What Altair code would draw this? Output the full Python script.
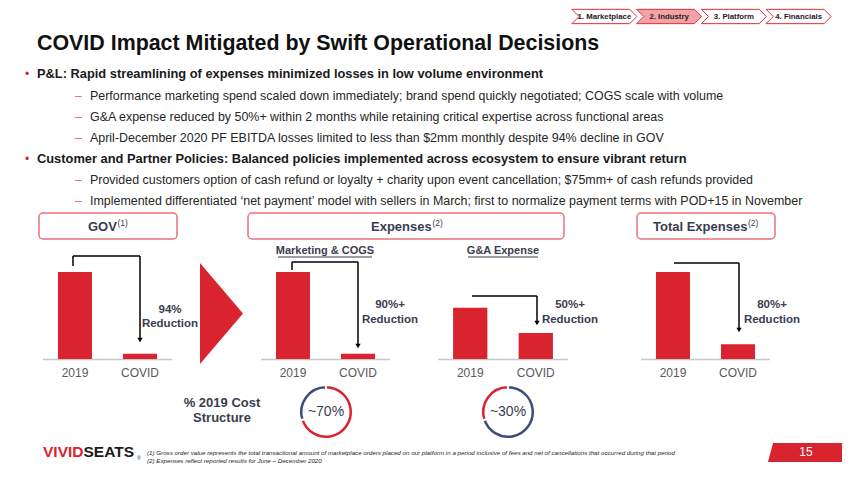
import altair as alt
import pandas as pd

# ---------------- data ----------------
NAV_TABS = ["1. Marketplace", "2. Industry", "3. Platform", "4. Financials"]
ACTIVE_TAB = "2. Industry"
TITLE = "COVID Impact Mitigated by Swift Operational Decisions"
BULLET_KINDS = ["main", "sub", "sub", "sub", "main", "sub", "sub"]
BULLET_TEXTS = [
    "P&L: Rapid streamlining of expenses minimized losses in low volume environment",
    "Performance marketing spend scaled down immediately; brand spend quickly negotiated; COGS scale with volume",
    "G&A expense reduced by 50%+ within 2 months while retaining critical expertise across functional areas",
    "April-December 2020 PF EBITDA losses limited to less than $2mm monthly despite 94% decline in GOV",
    "Customer and Partner Policies: Balanced policies implemented across ecosystem to ensure vibrant return",
    "Provided customers option of cash refund or loyalty + charity upon event cancellation; $75mm+ of cash refunds provided",
    "Implemented differentiated \u2018net payment\u2019 model with sellers in March; first to normalize payment terms with POD+15 in November",
]
PERIODS = ["2019", "COVID"]
GOV_VALUES = [100, 6]
MKT_VALUES = [100, 6]
GA_VALUES = [59, 30]
TOTAL_VALUES = [100, 17]
REDUCTIONS = ["94%", "90%+", "50%+", "80%+"]
COST_SEGMENTS = ["Marketing & COGS", "G&A"]
COST_SHARES = [70, 30]
COST_LABELS = ["~70%", "~30%"]
FOOTNOTES = [
    "(1) Gross order value represents the total transactional amount of marketplace orders placed on our platform in a period inclusive of fees and net of cancellations that occurred during that period",
    "(2) Expenses reflect reported results for June \u2013 December 2020",
]
PAGE = "15"

# ---------------- styles ----------------
OX, OY = 8, 8
def px(x):
    return x - OX
def py(y):
    return y - OY

FONT = "Liberation Sans, Arial, Helvetica, sans-serif"
RED = "#D9232E"
NAVY = "#3F4B7C"
DARK = "#3A3D4F"
GRAY_TXT = "#595959"
ONE = pd.DataFrame({"k": [0]})

layers = []

def txt(s, x, y, size=13, weight="normal", color="#222222", align="left",
        baseline="middle", font=FONT, style="normal"):
    return alt.Chart(ONE).mark_text(
        text=s, align=align, baseline=baseline, fontSize=size, fontWeight=weight,
        color=color, font=font, fontStyle=style
    ).encode(x=alt.value(px(x)), y=alt.value(py(y)))

def rule(x1, y1, x2, y2, color="black", width=1.5):
    return alt.Chart(ONE).mark_rule(color=color, strokeWidth=width).encode(
        x=alt.value(px(x1)), y=alt.value(py(y1)),
        x2=alt.value(px(x2)), y2=alt.value(py(y2)))

def shape(path, cx, cy, size, fill, stroke=None, sw=0):
    kw = dict(shape=path, size=size, filled=True, fill=fill, opacity=1, strokeWidth=sw)
    if stroke:
        kw["stroke"] = stroke
    return alt.Chart(ONE).mark_point(**kw).encode(x=alt.value(px(cx)), y=alt.value(py(cy)))

# ---------------- nav tabs ----------------
TAB_PATH = "M -1 -0.22 L 0.78 -0.22 L 1 0 L 0.78 0.22 L -1 0.22 L -0.78 0 Z"
tab_df = pd.DataFrame({"tab": NAV_TABS})
tab_x = alt.X("tab:N", axis=None, sort=NAV_TABS,
              scale=alt.Scale(domain=NAV_TABS, range=[px(572), px(831)], paddingInner=0, paddingOuter=0))
tabs = alt.Chart(tab_df).mark_point(shape=TAB_PATH, size=65 * 65, filled=True, opacity=1,
                                    stroke="#E0303A", strokeWidth=1).encode(
    x=tab_x, y=alt.value(py(16.5)),
    fill=alt.condition(alt.datum.tab == ACTIVE_TAB, alt.value("#F3A3A8"), alt.value("white")))
tab_text = alt.Chart(tab_df).mark_text(font=FONT, fontSize=7.8, fontWeight="bold", color="#222222").encode(
    x=tab_x, y=alt.value(py(17)), text="tab:N")
layers.append(alt.layer(tabs, tab_text))

# ---------------- title & bullets ----------------
layers.append(txt(TITLE, 37, 50, size=21.4, weight="bold", color="#111111", baseline="alphabetic"))
BULLET_Y = [74, 96, 117, 138, 159, 180, 201]
for kind, s, y in zip(BULLET_KINDS, BULLET_TEXTS, BULLET_Y):
    if kind == "main":
        layers.append(txt("\u2022", 25, y, size=12, color=RED))
        layers.append(txt(s, 37, y, size=12.85, weight="bold", color="#1A1A1A"))
    else:
        layers.append(txt("\u2013", 75, y, size=12, color="#E07070"))
        layers.append(txt(s, 90, y, size=12.45, color="#262626"))

# ---------------- header boxes ----------------
for (x0, x1) in [(39, 177), (248, 564), (637, 775)]:
    layers.append(alt.Chart(ONE).mark_rect(fill="white", stroke="#E8737B", strokeWidth=1.5,
                                           cornerRadius=4).encode(
        x=alt.value(px(x0)), x2=alt.value(px(x1)), y=alt.value(py(213)), y2=alt.value(py(239))))
for (s, x, sup, sx) in [("GOV", 88, "(1)", 117.5), ("Expenses", 371, "(2)", 432.5),
                        ("Total Expenses", 653, "(2)", 748)]:
    layers.append(txt(s, x, 227, size=13, weight="bold", color=DARK))
    layers.append(txt(sup, sx, 222.5, size=8.5, color=DARK))

layers.append(txt("Marketing & COGS", 325, 251, size=11, weight="bold", color=DARK, align="center"))
layers.append(rule(278, 257, 372, 257, color=DARK, width=1))
layers.append(txt("G&A Expense", 503, 251, size=11, weight="bold", color=DARK, align="center"))
layers.append(rule(468, 257, 538, 257, color=DARK, width=1))

# ---------------- bar panels ----------------
def panel(values, x0, x1):
    df = pd.DataFrame({"period": PERIODS, "value": values})
    xs = alt.X("period:N", sort=PERIODS, axis=None,
               scale=alt.Scale(domain=PERIODS, range=[px(x0), px(x1)],
                               paddingInner=0.477, paddingOuter=0.23))
    base = alt.Chart(df)
    bars = base.mark_bar(color=RED).encode(
        x=xs,
        y=alt.Y("value:Q", axis=None,
                scale=alt.Scale(domain=[0, 100], range=[py(359), py(272)])))
    labels = base.mark_text(font=FONT, fontSize=12, color=GRAY_TXT, baseline="middle").encode(
        x=xs, y=alt.value(py(373)), text="period:N")
    return alt.layer(bars, labels)

PANELS = [(GOV_VALUES, 43, 172), (MKT_VALUES, 261, 390), (GA_VALUES, 438, 568), (TOTAL_VALUES, 641, 770)]
for vals, x0, x1 in PANELS:
    layers.append(rule(x0, 359.5, x1, 359.5, color="#C8C8C8", width=1.5))
    layers.append(panel(vals, x0, x1))

# arrows
ARROWS = [
    [(73, 266), (73, 256), (140, 256), (140, 338)],
    [(292, 270), (292, 262), (358, 262), (358, 344)],
    [(472, 296), (537, 296), (537, 321)],
    [(674, 263), (739, 263), (739, 328)],
]
for pts in ARROWS:
    for (a, b) in zip(pts[:-1], pts[1:]):
        layers.append(rule(a[0], a[1], b[0], b[1], color="black", width=1.5))
    ex, ey = pts[-1]
    layers.append(shape("triangle-down", ex, ey + 2, 28, "black"))

RED_POS = [(170, 310, 324), (390, 305, 320), (570, 305, 320), (772, 305, 320)]
for lab, (x, y1, y2) in zip(REDUCTIONS, RED_POS):
    layers.append(txt(lab, x, y1, size=11.5, weight="bold", color=DARK, align="center"))
    layers.append(txt("Reduction", x, y2, size=11.5, weight="bold", color=DARK, align="center"))

# big red triangle
layers.append(shape("M -0.426 -1 L 0.426 0 L -0.426 1 Z", 221.5, 313.5, 101 * 101, RED))

# ---------------- donuts ----------------
layers.append(txt("% 2019 Cost", 222, 403, size=13, weight="bold", color=DARK, align="center"))
layers.append(txt("Structure", 222, 418, size=13, weight="bold", color=DARK, align="center"))

cost_df = pd.DataFrame({"segment": COST_SEGMENTS, "share": COST_SHARES})
theta_scale = alt.Scale(domain=[0, 100], range=[0, 6.283185307])
for hl, cx, lab in [(COST_SEGMENTS[0], 326, COST_LABELS[0]), (COST_SEGMENTS[1], 508, COST_LABELS[1])]:
    d = alt.Chart(cost_df).transform_calculate(
        hl=f"datum.segment == '{hl}' ? 'hl' : 'base'",
        ord=f"datum.segment == '{COST_SEGMENTS[0]}' ? 0 : 1",
    ).transform_window(
        cum="sum(share)", sort=[alt.SortField("ord", order="ascending")]
    ).transform_calculate(
        start="datum.cum - datum.share"
    ).mark_arc(radius=27, radius2=22.5, stroke="white", strokeWidth=2).encode(
        theta=alt.Theta("start:Q", scale=theta_scale, stack=None),
        theta2=alt.Theta2("cum:Q"),
        color=alt.Color("hl:N", legend=None,
                        scale=alt.Scale(domain=["hl", "base"], range=[RED, NAVY])),
        x=alt.value(px(cx)), y=alt.value(py(412)))
    layers.append(d)
    layers.append(txt(lab, cx, 412, size=14, color=DARK, align="center"))

# ---------------- footer ----------------
layers.append(txt("VIVID", 43, 452, size=15.5, weight="bold", color=RED))
layers.append(txt("SEATS", 83.5, 452, size=15.5, weight="bold", color="#1A1A1A"))
layers.append(txt("\u00ae", 137, 458, size=5, color="#1A1A1A"))
layers.append(txt(FOOTNOTES[0], 147, 453, size=6.2, color="#222222", style="italic"))
layers.append(txt(FOOTNOTES[1], 147, 461, size=6.2, color="#222222", style="italic"))
layers.append(shape("M -0.878 -0.232 L 1 -0.232 L 1 0.232 L -1 0.232 Z", 809, 452.5, 82 * 82, RED))
layers.append(txt(PAGE, 806, 452, size=12, color="white", align="center"))

chart = alt.layer(*layers).resolve_scale(
    x="independent", y="independent", color="independent", theta="independent"
).properties(
    width=834, height=462, padding=0, autosize=alt.AutoSizeParams(type="none"),
    background="white"
).configure_view(stroke=None)

chart.save("out.html", embed_options={"renderer": "svg", "actions": False})
